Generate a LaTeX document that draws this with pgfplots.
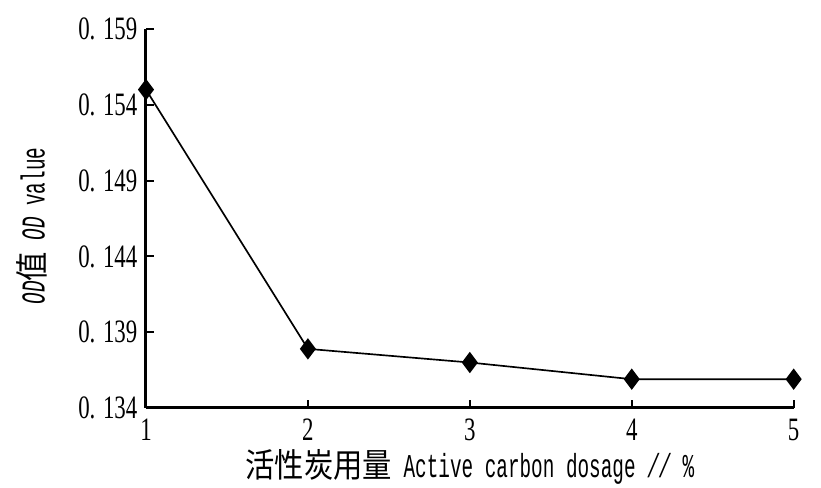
\documentclass[border=0pt]{standalone}
\usepackage{fontspec}
\setmainfont{Liberation Serif}[FakeStretch=0.7]
\setmonofont{Liberation Mono}[FakeStretch=0.58]
\newfontfamily\cjk{Noto Sans CJK SC}[FakeStretch=0.88]
\usepackage{pgfplots}
\pgfplotsset{compat=1.18}
\begin{document}
\begin{tikzpicture}
\useasboundingbox (-43.8pt,-24pt) rectangle (202.5pt,122.4pt);
\begin{axis}[
  at={(0,0)}, anchor=south west,
  scale only axis,
  width=194.3pt, height=113.7pt,
  xmin=1, xmax=5, ymin=0.134, ymax=0.159,
  axis x line*=bottom, axis y line*=left,
  axis line style={line width=0.9pt},
  tick align=inside,
  major tick length=2.4pt,
  tick style={line width=0.6pt, black},
  xtick={1,2,3,4,5},
  xticklabels={1,2,3,4,5},
  ytick={0.134,0.139,0.144,0.149,0.154,0.159},
  yticklabels={0. 134,0. 139,0. 144,0. 149,0. 154,0. 159},
  ticklabel style={font=\fontsize{9.8}{10}\selectfont, inner sep=0pt},
  yticklabel style={anchor=east, xshift=-2.4pt},
  xticklabel style={anchor=north, yshift=-3pt},
  xlabel={{\cjk 活性炭用量} Active carbon dosage \textit{//} \%},
  ylabel={\textit{OD}{\cjk 值} \textit{OD} value},
  label style={font=\ttfamily\fontsize{10}{11}\selectfont},
  xlabel style={at={(axis description cs:0.5,0)}, anchor=center, yshift=-17.7pt},
  ylabel style={at={(axis description cs:-0.176,0.48)}, anchor=center},
  clip=false,
]
\addplot[black, line width=0.5pt, mark=diamond*, mark size=2.8pt, mark options={fill=black}]
coordinates {(1,0.1550) (2,0.1379) (3,0.1370) (4,0.1359) (5,0.1359)};
\end{axis}
\end{tikzpicture}
\end{document}
